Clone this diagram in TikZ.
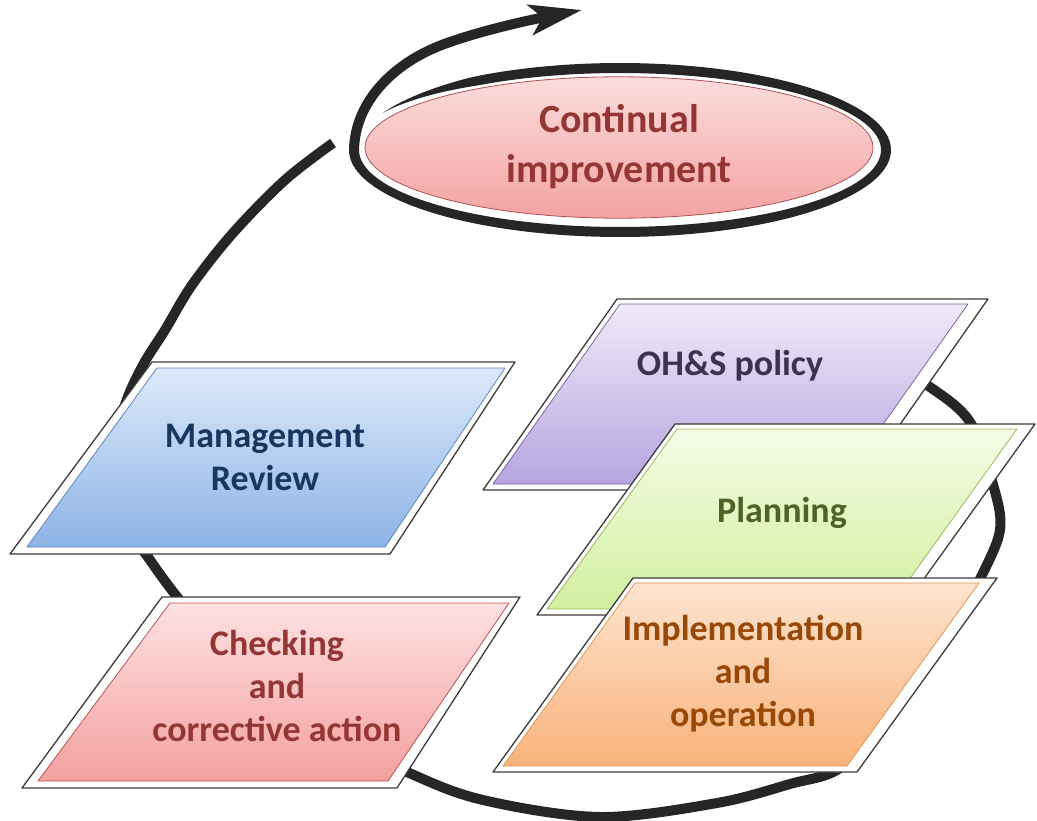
\documentclass[tikz,border=0pt]{standalone}
\usepackage{fontspec}
\setmainfont{Carlito}
\usetikzlibrary{arrows.meta,shapes.geometric}
\definecolor{loopc}{HTML}{262626}
\definecolor{framec}{HTML}{3C3C3C}
\definecolor{mrtop}{HTML}{DDE9FA}
\definecolor{mrbot}{HTML}{8DB3E6}
\definecolor{mrline}{HTML}{5B87C2}
\definecolor{mrtext}{HTML}{17375E}
\definecolor{cktop}{HTML}{FDE1E1}
\definecolor{ckbot}{HTML}{F4A0A0}
\definecolor{ckline}{HTML}{C0504D}
\definecolor{redtext}{HTML}{943634}
\definecolor{ohtop}{HTML}{EFEAF8}
\definecolor{ohbot}{HTML}{B6A5E0}
\definecolor{ohline}{HTML}{8064A2}
\definecolor{ohtext}{HTML}{3F3151}
\definecolor{pltop}{HTML}{F5FBE6}
\definecolor{plbot}{HTML}{D2EFA0}
\definecolor{plline}{HTML}{9BBB59}
\definecolor{pltext}{HTML}{4F6228}
\definecolor{imtop}{HTML}{FDE4CF}
\definecolor{imbot}{HTML}{F8B27A}
\definecolor{imline}{HTML}{E3964F}
\definecolor{imtext}{HTML}{984807}
\definecolor{eltop}{HTML}{FBDCDC}
\definecolor{elbot}{HTML}{F4A3A3}
\definecolor{elline}{HTML}{B05050}
\begin{document}
\begin{tikzpicture}[x=1pt,y=-1pt,
  frame/.style={draw=framec, line width=1.3pt, fill=white, line join=round},
  face/.style={line width=0.8pt, line join=round},
  boxlabel/.style={inner sep=0pt, align=center, font=\fontsize{36}{43}\selectfont\bfseries},
  spiral/.style={draw=loopc, line width=10pt}
]
\useasboundingbox (0,0) rectangle (1037,821);

% big loop (behind the boxes)
\draw[spiral, line join=round] plot[smooth, tension=0.55] coordinates {
 (333,143) (285,180) (233,233) (192,285) (165,330) (143,365) (125,405)
 (113,460) (120,515) (150,560) (178,598) (230,660) (300,720) (407,772)
 (483,800) (600,817) (717,803) (790,784) (840,768) (885,718) (925,665)
 (958,618) (982,575) (1000,530) (994,488) (970,422) (927,385) (875,355)};

% tapered ring round the ellipse
\fill[loopc] plot[domain=153:-180, samples=160, variable=\t]
   ({620+(266+5*min(1,(153-\t)/30))*cos(\t)}, {150-(82+5*min(1,(153-\t)/30))*sin(\t)})
 -- plot[domain=-180:153, samples=160, variable=\t]
   ({620+(266-5*min(1,(153-\t)/30))*cos(\t)}, {150-(82-5*min(1,(153-\t)/30))*sin(\t)})
 -- cycle;
\coordinate (ringend) at (354,150);
\coordinate (tip) at (582,10);
\draw[spiral, -{Stealth[length=52pt,width=30pt,inset=12pt]}]
  (ringend) .. controls (355,100) and (396,60) .. (450,42)
  .. controls (490,28) and (540,18) .. (tip);

% ellipse
\node[ellipse, minimum width=508pt, minimum height=136pt, inner sep=0pt,
  draw=elline, line width=0.8pt, top color=eltop, bottom color=elbot,
  text=redtext, font=\fontsize{40}{50}\selectfont\bfseries, align=center]
  (ci) at (619,147.5) {\strut Continual\\\strut improvement};

% Management Review
\path[frame] (152,362) -- (515,362) -- (390,554) -- (10,554) -- cycle;
\path[face, draw=mrline, top color=mrtop, bottom color=mrbot]
  (157,368) -- (505,368) -- (385,547) -- (27,547) -- cycle;
\node[boxlabel, text=mrtext] (mr) at (265,459.9) {\strut Management\\\strut Review};

% Checking
\path[frame] (162,597) -- (520,597) -- (397,788) -- (22,788) -- cycle;
\path[face, draw=ckline, top color=cktop, bottom color=ckbot]
  (170,603) -- (509,603) -- (388,781) -- (38,781) -- cycle;
\node[boxlabel, text=redtext] (ck) at (277,689.4) {\strut Checking\\\strut and\\\strut corrective action};

% OH&S policy
\path[frame] (617,299) -- (988,299) -- (854,490) -- (483,490) -- cycle;
\path[face, draw=ohline, top color=ohtop, bottom color=ohbot]
  (620,304) -- (968,304) -- (841,484) -- (493,484) -- cycle;
\node[boxlabel, text=ohtext] (oh) at (730,366.4) {\strut OH\&S policy};

% Planning
\path[frame] (675,424) -- (1035,424) -- (898,615) -- (537,615) -- cycle;
\path[face, draw=plline, top color=pltop, bottom color=plbot]
  (677,429) -- (1017,429) -- (888,609) -- (547,609) -- cycle;
\node[boxlabel, text=pltext] (pl) at (782,513.4) {\strut Planning};

% Implementation
\path[frame] (633,578) -- (997,578) -- (857,772) -- (493,772) -- cycle;
\path[face, draw=imline, top color=imtop, bottom color=imbot]
  (635,583) -- (979,583) -- (847,766) -- (503,766) -- cycle;
\node[boxlabel, text=imtext] (im) at (743,674.4) {\strut Implementation\\\strut and\\\strut operation};
\end{tikzpicture}
\end{document}
